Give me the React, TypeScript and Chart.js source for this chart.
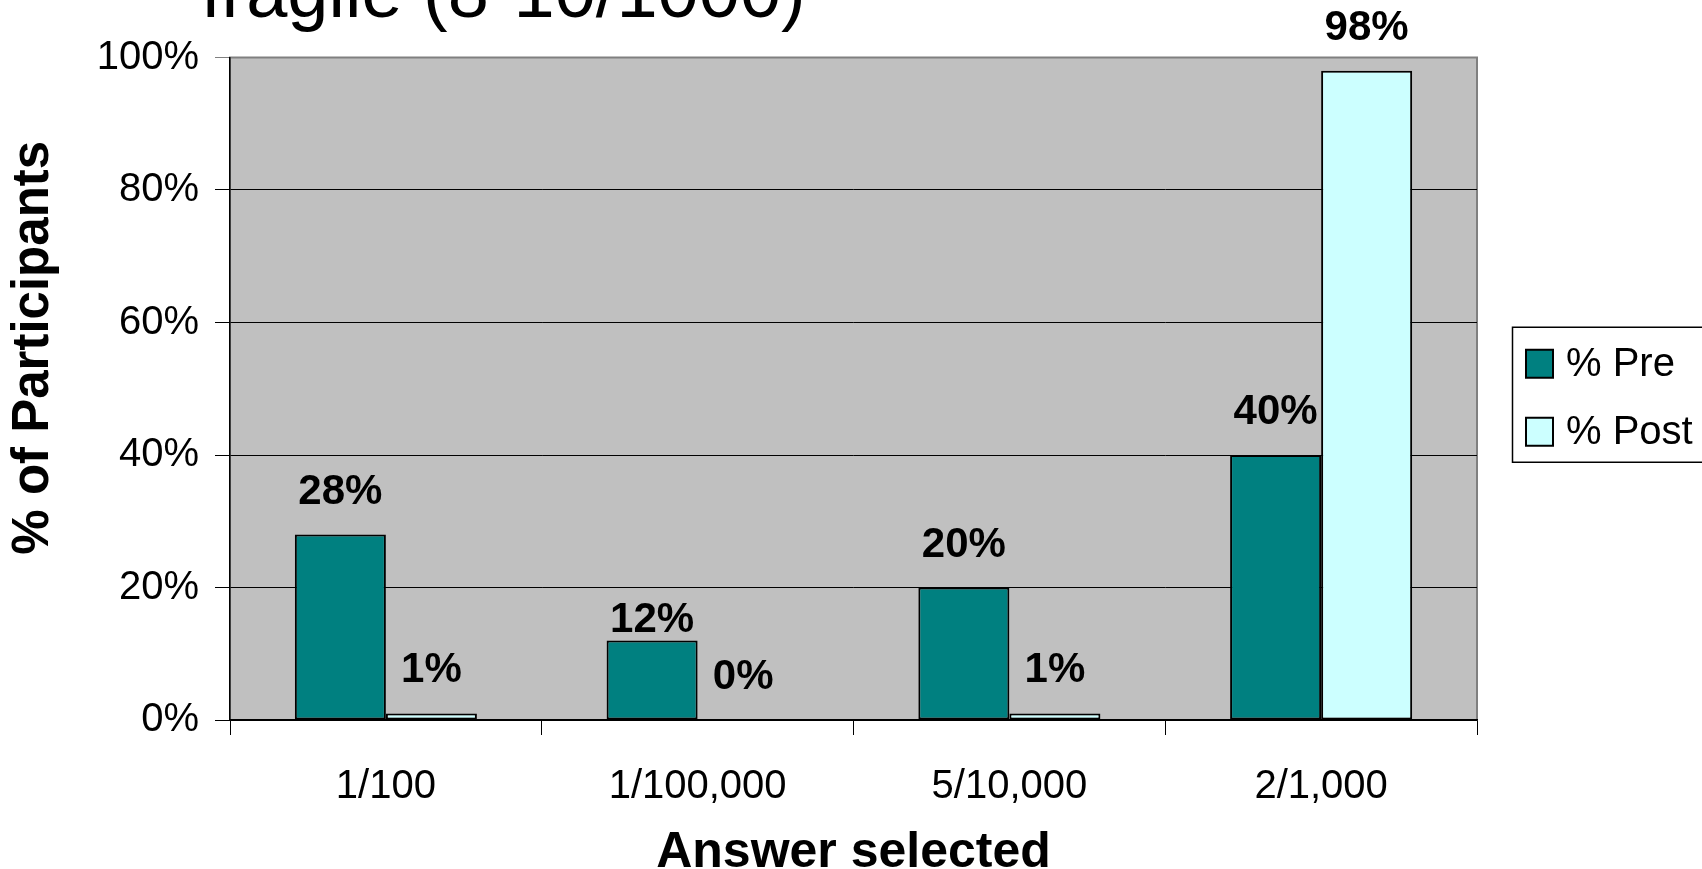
import React, { useEffect, useRef } from 'react';
import { Chart, registerables } from 'chart.js';

Chart.register(...registerables);

const categories = ['1/100', '1/100,000', '5/10,000', '2/1,000'];
const preValues = [28, 12, 20, 40];
const postValues = [1, 0, 1, 98];
const seriesLabels = ['% Pre', '% Post'];
const seriesColors = ['#008080', '#CCFFFF'];
const chartTitle = 'fragile (8-10/1000)';
const xTitle = 'Answer selected';
const yTitle = '% of Participants';
const yMin = 0;
const yMax = 100;
const yStep = 20;

const FONT = '"Liberation Sans", Arial, Helvetica, sans-serif';

const decorPlugin = {
  id: 'decor',
  beforeDraw(chart: any) {
    const { ctx, chartArea: a } = chart;
    ctx.save();
    ctx.fillStyle = '#C0C0C0';
    ctx.fillRect(a.left, a.top, a.right - a.left, a.bottom - a.top);
    ctx.strokeStyle = '#808080';
    ctx.lineWidth = 2;
    ctx.strokeRect(a.left, a.top, a.right - a.left, a.bottom - a.top);
    ctx.restore();
  },
  afterDatasetsDraw(chart: any) {
    const { ctx } = chart;
    ctx.save();
    ctx.font = `bold 42px ${FONT}`;
    ctx.fillStyle = '#000';
    ctx.textAlign = 'center';
    ctx.textBaseline = 'alphabetic';
    chart.data.datasets.forEach((ds: any, i: number) => {
      const meta = chart.getDatasetMeta(i);
      const gaps = ds.labelGaps || [];
      meta.data.forEach((el: any, j: number) => {
        const v = ds.data[j];
        const gap = gaps[j] != null ? gaps[j] : 31;
        ctx.fillText(`${v}%`, el.x, el.y - gap);
      });
    });
    ctx.restore();
  },
  afterDraw(chart: any) {
    const { ctx, chartArea: a } = chart;
    const cy = (a.top + a.bottom) / 2;
    ctx.save();
    // chart title (partly above the visible page)
    ctx.fillStyle = '#000';
    ctx.font = `74px ${FONT}`;
    ctx.textAlign = 'left';
    ctx.textBaseline = 'alphabetic';
    ctx.fillText(chartTitle, a.left - 29, 17);

    // y axis title
    ctx.save();
    ctx.translate(a.left - 196, cy - 41);
    ctx.rotate(-Math.PI / 2);
    ctx.font = `bold 51px ${FONT}`;
    ctx.textAlign = 'center';
    ctx.textBaseline = 'middle';
    ctx.fillText(yTitle, 0, 0);
    ctx.restore();

    // legend
    const lx = a.right + 35.5;
    ctx.strokeStyle = '#000';
    ctx.lineWidth = 1.5;
    ctx.strokeRect(lx, cy - 61.5, chart.width - lx + 20, 135);
    const rows = [cy - 25, cy + 43];
    chart.data.datasets.forEach((ds: any, i: number) => {
      const ry = rows[i];
      ctx.fillStyle = ds.backgroundColor;
      ctx.fillRect(a.right + 49, ry - 14, 27, 28);
      ctx.lineWidth = 2;
      ctx.strokeStyle = '#000';
      ctx.strokeRect(a.right + 49, ry - 14, 27, 28);
      ctx.fillStyle = '#000';
      ctx.font = `40px ${FONT}`;
      ctx.textAlign = 'left';
      ctx.textBaseline = 'middle';
      ctx.fillText(ds.label, a.right + 89, ry + 1);
    });
    ctx.restore();
  },
};

export default function App() {
  const canvasRef = useRef<HTMLCanvasElement | null>(null);

  useEffect(() => {
    if (!canvasRef.current) return;
    const chart = new Chart(canvasRef.current, {
      type: 'bar',
      data: {
        labels: categories,
        datasets: [
          {
            label: seriesLabels[0],
            data: preValues,
            labelGaps: [31, 9, 31, 31],
            backgroundColor: seriesColors[0],
            borderColor: '#000',
            borderWidth: 2,
            borderSkipped: false,
            categoryPercentage: 0.584,
            barPercentage: 1,
          },
          {
            label: seriesLabels[1],
            data: postValues,
            backgroundColor: seriesColors[1],
            borderColor: '#000',
            borderWidth: 2,
            borderSkipped: false,
            categoryPercentage: 0.584,
            barPercentage: 1,
          },
        ],
      },
      options: {
        responsive: false,
        animation: false,
        layout: { padding: { left: 80.7, right: 225, top: 57.5, bottom: 6 } },
        plugins: {
          legend: { display: false },
          title: { display: false },
          tooltip: { enabled: false },
        },
        scales: {
          x: {
            grid: {
              display: true,
              drawOnChartArea: false,
              drawTicks: true,
              tickLength: 15,
              color: '#000',
              offset: true,
              lineWidth: 1,
            },
            border: { display: true, color: '#000', width: 1.5 },
            ticks: {
              font: { family: FONT, size: 40, lineHeight: 1.2 },
              color: '#000',
              padding: 27.5,
              maxRotation: 0,
              autoSkip: false,
            },
            title: {
              display: true,
              text: xTitle,
              font: { family: FONT, size: 50, weight: 'bold', lineHeight: 0.4 },
              color: '#000',
              padding: { top: 5, bottom: 0 },
            },
          },
          y: {
            min: yMin,
            max: yMax,
            grid: {
              color: (c: any) => (c.tick && c.tick.value === yMax ? '#808080' : '#000'),
              tickLength: 15,
              drawTicks: true,
              lineWidth: 1,
            },
            border: { display: true, color: '#000', width: 1.5 },
            ticks: {
              stepSize: yStep,
              callback: (v: any) => `${v}%`,
              font: { family: FONT, size: 40, lineHeight: 1.2 },
              color: '#000',
              padding: 16,
            },
          },
        },
      },
      plugins: [decorPlugin],
    } as any);
    return () => chart.destroy();
  }, []);

  return (
    <div
      style={{
        position: 'fixed',
        left: 0,
        top: 0,
        width: 1702,
        height: 869,
        overflow: 'hidden',
        background: '#fff',
      }}
    >
      <canvas ref={canvasRef} width={1702} height={869} style={{ display: 'block' }} />
    </div>
  );
}
